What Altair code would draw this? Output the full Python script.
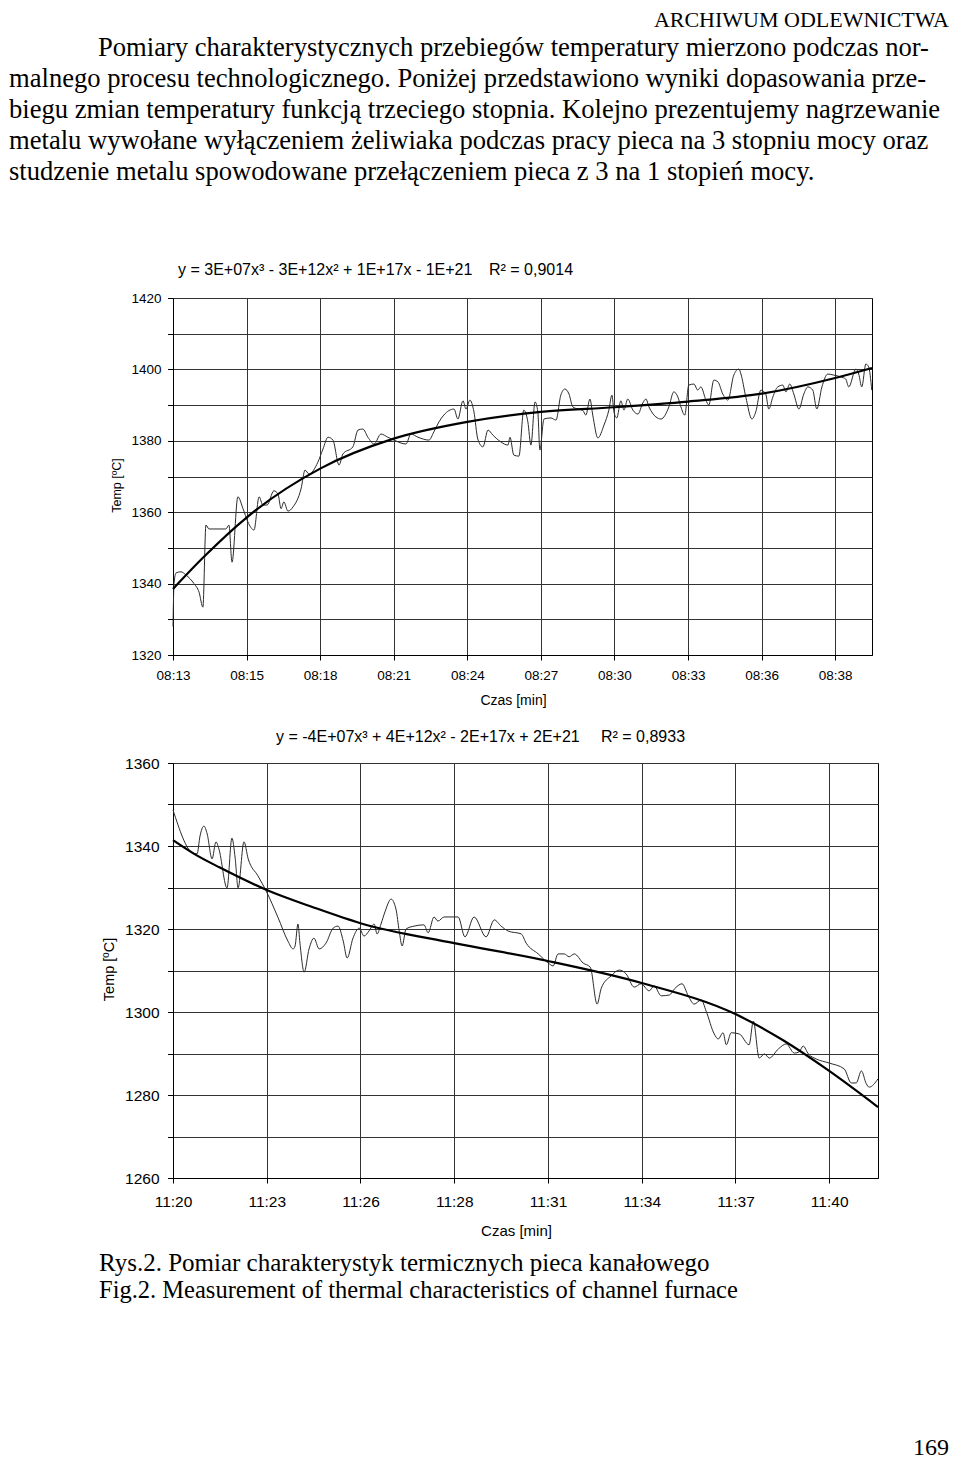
import json
import altair as alt
import pandas as pd

SERIF = "Liberation Serif, Times New Roman, serif"
SANS = "Liberation Sans, Arial, sans-serif"
GRID = "#333333"

# ---------------- page text ----------------
HEADER = "ARCHIWUM ODLEWNICTWA"
PARAGRAPH = [
    "Pomiary charakterystycznych przebiegów temperatury mierzono podczas nor-",
    "malnego procesu technologicznego. Poniżej przedstawiono wyniki dopasowania prze-",
    "biegu zmian temperatury funkcją trzeciego stopnia. Kolejno prezentujemy nagrzewanie",
    "metalu wywołane wyłączeniem żeliwiaka podczas pracy pieca na 3 stopniu mocy oraz",
    "studzenie metalu spowodowane przełączeniem pieca z 3 na 1 stopień mocy.",
]
CAPTION = [
    "Rys.2. Pomiar charakterystyk termicznych pieca kanałowego",
    "Fig.2. Measurement of thermal characteristics of channel furnace",
]
PAGE_NO = "169"

Y_TITLE = "Temp [ºC]"
X_TITLE = "Czas [min]"

# ---------------- chart 1 (heating) ----------------
TOP_EQ = "y = 3E+07x³ - 3E+12x² + 1E+17x - 1E+21"
TOP_R2 = "R² = 0,9014"
TOP_STEP = 2.88
TOP_TICKS = [0, 2.88, 5.76, 8.64, 11.52, 14.40, 17.28, 20.16, 23.04, 25.92]
TOP_TICK_LABELS = ["08:13", "08:15", "08:18", "08:21", "08:24", "08:27",
                   "08:30", "08:33", "08:36", "08:38"]
TOP_X_END = 27.36
TOP_Y_DOMAIN = [1320, 1420]
TOP_Y_TICKS = [1320, 1330, 1340, 1350, 1360, 1370, 1380, 1390, 1400, 1410, 1420]

top_time = [
    0.00, 0.04, 0.12, 0.31, 0.51, 0.82, 1.02, 1.17, 1.29, 1.41, 2.07, 2.19, 2.31,
    2.54, 2.74, 2.93, 3.17, 3.37, 3.52, 3.68, 3.95, 4.11, 4.23, 4.34, 4.50, 4.70,
    5.01, 5.17, 5.32, 5.67, 5.87, 6.07, 6.26, 6.50, 6.65, 7.04, 7.24, 7.43, 7.63,
    7.87, 8.14, 8.41, 8.65, 9.12, 9.31, 9.59, 10.02, 10.21, 10.41, 10.60, 11.00,
    11.15, 11.35, 11.47, 11.62, 11.78, 11.93, 12.13, 12.33, 12.52, 12.83, 13.11,
    13.19, 13.34, 13.54, 13.73, 13.89, 14.01, 14.17, 14.28, 14.36, 14.52, 14.79,
    14.99, 15.18, 15.34, 15.50, 15.65, 15.85, 16.04, 16.16, 16.32, 16.43, 16.63,
    16.87, 17.06, 17.18, 17.26, 17.37, 17.53, 17.65, 17.80, 18.00, 18.20, 18.39,
    18.51, 18.63, 18.90, 19.10, 19.41, 19.60, 19.76, 19.88, 20.03, 20.19, 20.39,
    20.54, 20.66, 20.86, 20.97, 21.17, 21.33, 21.52, 21.72, 21.95, 22.15, 22.23,
    22.42, 22.66, 22.81, 23.01, 23.20, 23.32, 23.48, 23.67, 23.87, 23.99, 24.14,
    24.30, 24.50, 24.69, 24.85, 25.04, 25.20, 25.40, 25.63, 25.87, 26.14, 26.33,
    26.45, 26.73, 26.84, 26.96, 27.12, 27.23, 27.35,
]
top_temp = [
    1328.0, 1340.0, 1343.0, 1343.3, 1342.4, 1340.0, 1337.6, 1333.4, 1356.4, 1355.3,
    1355.3, 1356.4, 1346.0, 1364.3, 1361.0, 1357.3, 1355.0, 1364.3, 1362.0, 1362.0,
    1366.0, 1365.1, 1361.0, 1362.9, 1360.3, 1361.5, 1366.5, 1371.8, 1370.7, 1374.0,
    1377.7, 1381.0, 1380.2, 1373.2, 1376.3, 1378.3, 1383.0, 1383.3, 1381.0, 1379.1,
    1381.9, 1381.0, 1380.2, 1379.1, 1381.9, 1381.0, 1380.2, 1382.5, 1385.3, 1387.2,
    1388.9, 1386.1, 1391.2, 1388.9, 1391.4, 1388.1, 1380.5, 1378.3, 1383.0, 1381.6,
    1379.7, 1378.8, 1381.0, 1376.0, 1375.7, 1388.6, 1385.3, 1378.8, 1390.9, 1388.1,
    1377.4, 1386.1, 1386.4, 1385.8, 1392.8, 1394.5, 1393.1, 1389.5, 1388.9, 1388.5,
    1387.2, 1391.7, 1387.2, 1380.8, 1384.4, 1388.6, 1392.8, 1388.1, 1386.4, 1391.2,
    1388.6, 1391.7, 1388.6, 1387.5, 1390.6, 1391.7, 1389.5, 1386.7, 1386.1, 1389.5,
    1393.7, 1392.3, 1389.5, 1387.2, 1395.6, 1395.9, 1394.2, 1395.1, 1391.4, 1390.0,
    1397.0, 1396.5, 1393.1, 1391.4, 1398.4, 1400.1, 1398.7, 1392.3, 1386.1, 1388.1,
    1394.2, 1393.1, 1388.9, 1392.3, 1395.1, 1395.6, 1393.7, 1395.9, 1393.1, 1388.9,
    1393.1, 1395.1, 1394.2, 1388.9, 1395.1, 1398.7, 1398.4, 1397.9, 1397.3, 1395.1,
    1400.1, 1398.7, 1395.1, 1401.5, 1400.7, 1394.2,
]
top_fit_time = [0.0, 1.21, 2.88, 5.76, 8.64, 11.52, 14.40, 17.28, 20.16, 23.04, 25.92, 27.36]
top_fit_temp = [1338.5, 1347.5, 1358.5, 1372.2, 1380.6, 1385.3, 1388.1, 1389.4,
                1391.0, 1393.2, 1397.6, 1400.4]

# ---------------- chart 2 (cooling) ----------------
BOT_EQ = "y = -4E+07x³ + 4E+12x² - 2E+17x + 2E+21"
BOT_R2 = "R² = 0,8933"
BOT_STEP = 2.88
BOT_TICKS = [0, 2.88, 5.76, 8.64, 11.52, 14.40, 17.28, 20.16]
BOT_TICK_LABELS = ["11:20", "11:23", "11:26", "11:28", "11:31", "11:34", "11:37", "11:40"]
BOT_X_END = 21.66
BOT_Y_DOMAIN = [1260, 1360]
BOT_Y_TICKS = [1260, 1270, 1280, 1290, 1300, 1310, 1320, 1330, 1340, 1350, 1360]

bot_time = [
    0.00, 0.61, 0.74, 0.83, 0.95, 1.05, 1.20, 1.32, 1.41, 1.66, 1.81, 1.91, 2.00,
    2.18, 2.31, 2.61, 2.86, 3.23, 3.53, 3.69, 3.75, 3.84, 3.90, 4.03, 4.18, 4.33,
    4.49, 4.70, 4.92, 5.07, 5.23, 5.35, 5.53, 5.72, 5.87, 6.02, 6.18, 6.27, 6.39,
    6.52, 6.70, 6.85, 6.95, 7.04, 7.16, 7.41, 7.71, 7.84, 8.02, 8.14, 8.33, 8.76,
    8.97, 9.25, 9.62, 9.87, 10.08, 10.30, 10.70, 10.85, 11.22, 11.53, 11.68, 11.83,
    12.02, 12.17, 12.33, 12.60, 12.82, 13.03, 13.16, 13.46, 13.71, 13.92, 14.17,
    14.38, 14.63, 14.78, 15.00, 15.25, 15.40, 15.64, 15.83, 16.01, 16.23, 16.38,
    16.63, 16.75, 16.90, 17.00, 17.15, 17.40, 17.70, 17.83, 18.01, 18.17, 18.32,
    18.60, 18.84, 19.09, 19.24, 19.36, 19.52, 19.76, 20.16, 20.62, 20.84, 20.99,
    21.15, 21.30, 21.39, 21.66,
]
bot_temp = [
    1348.7, 1338.3, 1338.1, 1342.4, 1344.8, 1342.9, 1336.9, 1341.0, 1339.3, 1329.9,
    1341.9, 1337.1, 1329.9, 1341.0, 1336.9, 1332.8, 1329.2, 1322.7, 1317.1, 1315.2,
    1315.9, 1321.2, 1316.6, 1309.6, 1315.2, 1317.8, 1315.2, 1316.6, 1320.2, 1320.7,
    1317.1, 1313.0, 1317.8, 1320.2, 1318.3, 1319.5, 1321.2, 1318.8, 1321.2, 1324.3,
    1327.2, 1324.8, 1319.5, 1315.9, 1320.0, 1320.7, 1321.0, 1319.1, 1322.9, 1321.9,
    1322.9, 1322.9, 1318.1, 1322.9, 1318.1, 1322.2, 1320.7, 1319.5, 1318.8, 1316.6,
    1314.0, 1311.8, 1311.1, 1314.0, 1314.0, 1313.3, 1314.0, 1311.8, 1310.8, 1301.9,
    1305.8, 1308.7, 1310.1, 1309.2, 1306.0, 1306.8, 1305.1, 1306.3, 1303.9, 1304.1,
    1305.5, 1306.8, 1303.9, 1301.9, 1302.9, 1300.2, 1294.7, 1293.5, 1295.0, 1292.1,
    1295.0, 1294.7, 1292.1, 1297.8, 1288.9, 1289.9, 1288.9, 1291.1, 1292.3, 1290.1,
    1290.4, 1291.8, 1289.9, 1288.7, 1287.7, 1286.3, 1282.9, 1282.9, 1285.8, 1282.7,
    1281.9, 1283.9,
]
bot_fit_time = [0.0, 0.65, 1.44, 2.88, 4.32, 5.76, 8.64, 11.52, 14.40, 17.28, 18.72, 20.16, 21.66]
bot_fit_temp = [1341.4, 1338.1, 1334.8, 1329.4, 1325.2, 1321.4, 1316.6, 1312.3,
                1307.0, 1299.5, 1293.3, 1285.8, 1277.1]


def txt(s, x, y, size, font, align="left", baseline="middle"):
    return alt.Chart(alt.Data(values=[{"s": s}])).mark_text(
        align=align, baseline=baseline, fontSize=size, font=font, color="black"
    ).encode(x=alt.value(x), y=alt.value(y), text="s:N")


def x_axis(ticks, labels, step, size, pad, tx, ty, tsize):
    return alt.Axis(
        values=ticks,
        labelExpr=f"{json.dumps(labels)}[round(datum.value / {step})]",
        title=X_TITLE, grid=True, gridColor=GRID, gridWidth=1, gridOpacity=1,
        domainColor="black", tickColor="black", tickSize=5,
        labelFont=SANS, labelFontSize=size, labelColor="black", labelPadding=pad,
        labelFlush=False, labelOverlap=False,
        titleFont=SANS, titleFontSize=tsize, titleFontWeight="normal", titleColor="black",
        titleX=tx, titleY=ty, titleBaseline="middle", titleAlign="center",
    )


def y_axis(ticks, size, pad, tx, ty, tsize):
    return alt.Axis(
        values=ticks, format="d",
        labelExpr="datum.value % 20 === 0 ? datum.label : ''",
        title=Y_TITLE, grid=True, gridColor=GRID, gridWidth=1, gridOpacity=1,
        domainColor="black", tickColor="black", tickSize=5.5,
        labelFont=SANS, labelFontSize=size, labelColor="black", labelPadding=pad,
        labelFlush=False, labelOverlap=False,
        titleFont=SANS, titleFontSize=tsize, titleFontWeight="normal", titleColor="black",
        titleX=tx, titleY=ty, titleAngle=270, titleBaseline="middle", titleAlign="center",
    )


def panel(t, v, ft, fv, x_end, ydom, xax, yax):
    xs = alt.Scale(domain=[0, x_end], nice=False, zero=False)
    ys = alt.Scale(domain=ydom, nice=False, zero=False)
    data = pd.DataFrame({"t": t, "temp": v})
    fit = pd.DataFrame({"t": ft, "temp": fv})
    line = alt.Chart(data).mark_line(color="#2b2b2b", strokeWidth=1, interpolate="monotone").encode(
        x=alt.X("t:Q", scale=xs, axis=xax), y=alt.Y("temp:Q", scale=ys, axis=yax))
    trend = alt.Chart(fit).mark_line(color="black", strokeWidth=2.2, interpolate="monotone").encode(
        x=alt.X("t:Q", scale=xs, axis=xax), y=alt.Y("temp:Q", scale=ys, axis=yax))
    return line, trend


W1, H1 = 699, 357
W2, H2 = 705, 415

l1, f1 = panel(top_time, top_temp, top_fit_time, top_fit_temp, TOP_X_END, TOP_Y_DOMAIN,
               x_axis(TOP_TICKS, TOP_TICK_LABELS, TOP_STEP, 13.5, 8, 340, 45, 14),
               y_axis(TOP_Y_TICKS, 13.5, 6.5, -57, 187, 12.5))

texts1 = [txt(HEADER, 776, -288, 22, SERIF, align="right", baseline="top")]
para_y = [-250, -219, -188, -157, -126]
para_x = [-75, -164, -164, -164, -164]
for s, x, y in zip(PARAGRAPH, para_x, para_y):
    texts1.append(txt(s, x, y, 26.6, SERIF))
texts1.append(txt(TOP_EQ, 5, -28, 16, SANS))
texts1.append(txt(TOP_R2, 316, -28, 16, SANS))

chart1 = alt.layer(l1, f1, *texts1).properties(width=W1, height=H1)

l2, f2 = panel(bot_time, bot_temp, bot_fit_time, bot_fit_temp, BOT_X_END, BOT_Y_DOMAIN,
               x_axis(BOT_TICKS, BOT_TICK_LABELS, BOT_STEP, 15.5, 11, 343, 52, 15),
               y_axis(BOT_Y_TICKS, 15.5, 8.5, -64, 206, 14.5))

texts2 = [
    txt(BOT_EQ, 103, -26, 16, SANS),
    txt(BOT_R2, 428, -26, 16, SANS),
    txt(CAPTION[0], -74, 500, 25, SERIF),
    txt(CAPTION[1], -74, 528, 24.5, SERIF),
    txt(PAGE_NO, 776, 697, 24, SERIF, align="right", baseline="bottom"),
]
chart2 = alt.layer(l2, f2, *texts2).properties(width=W2, height=H2)

chart = alt.vconcat(chart1, chart2, spacing=108, bounds="flush").properties(
    padding=0, background="white"
).configure_view(stroke="black", strokeWidth=1)

chart.save("out.html", embed_options={"renderer": "svg", "actions": False})
